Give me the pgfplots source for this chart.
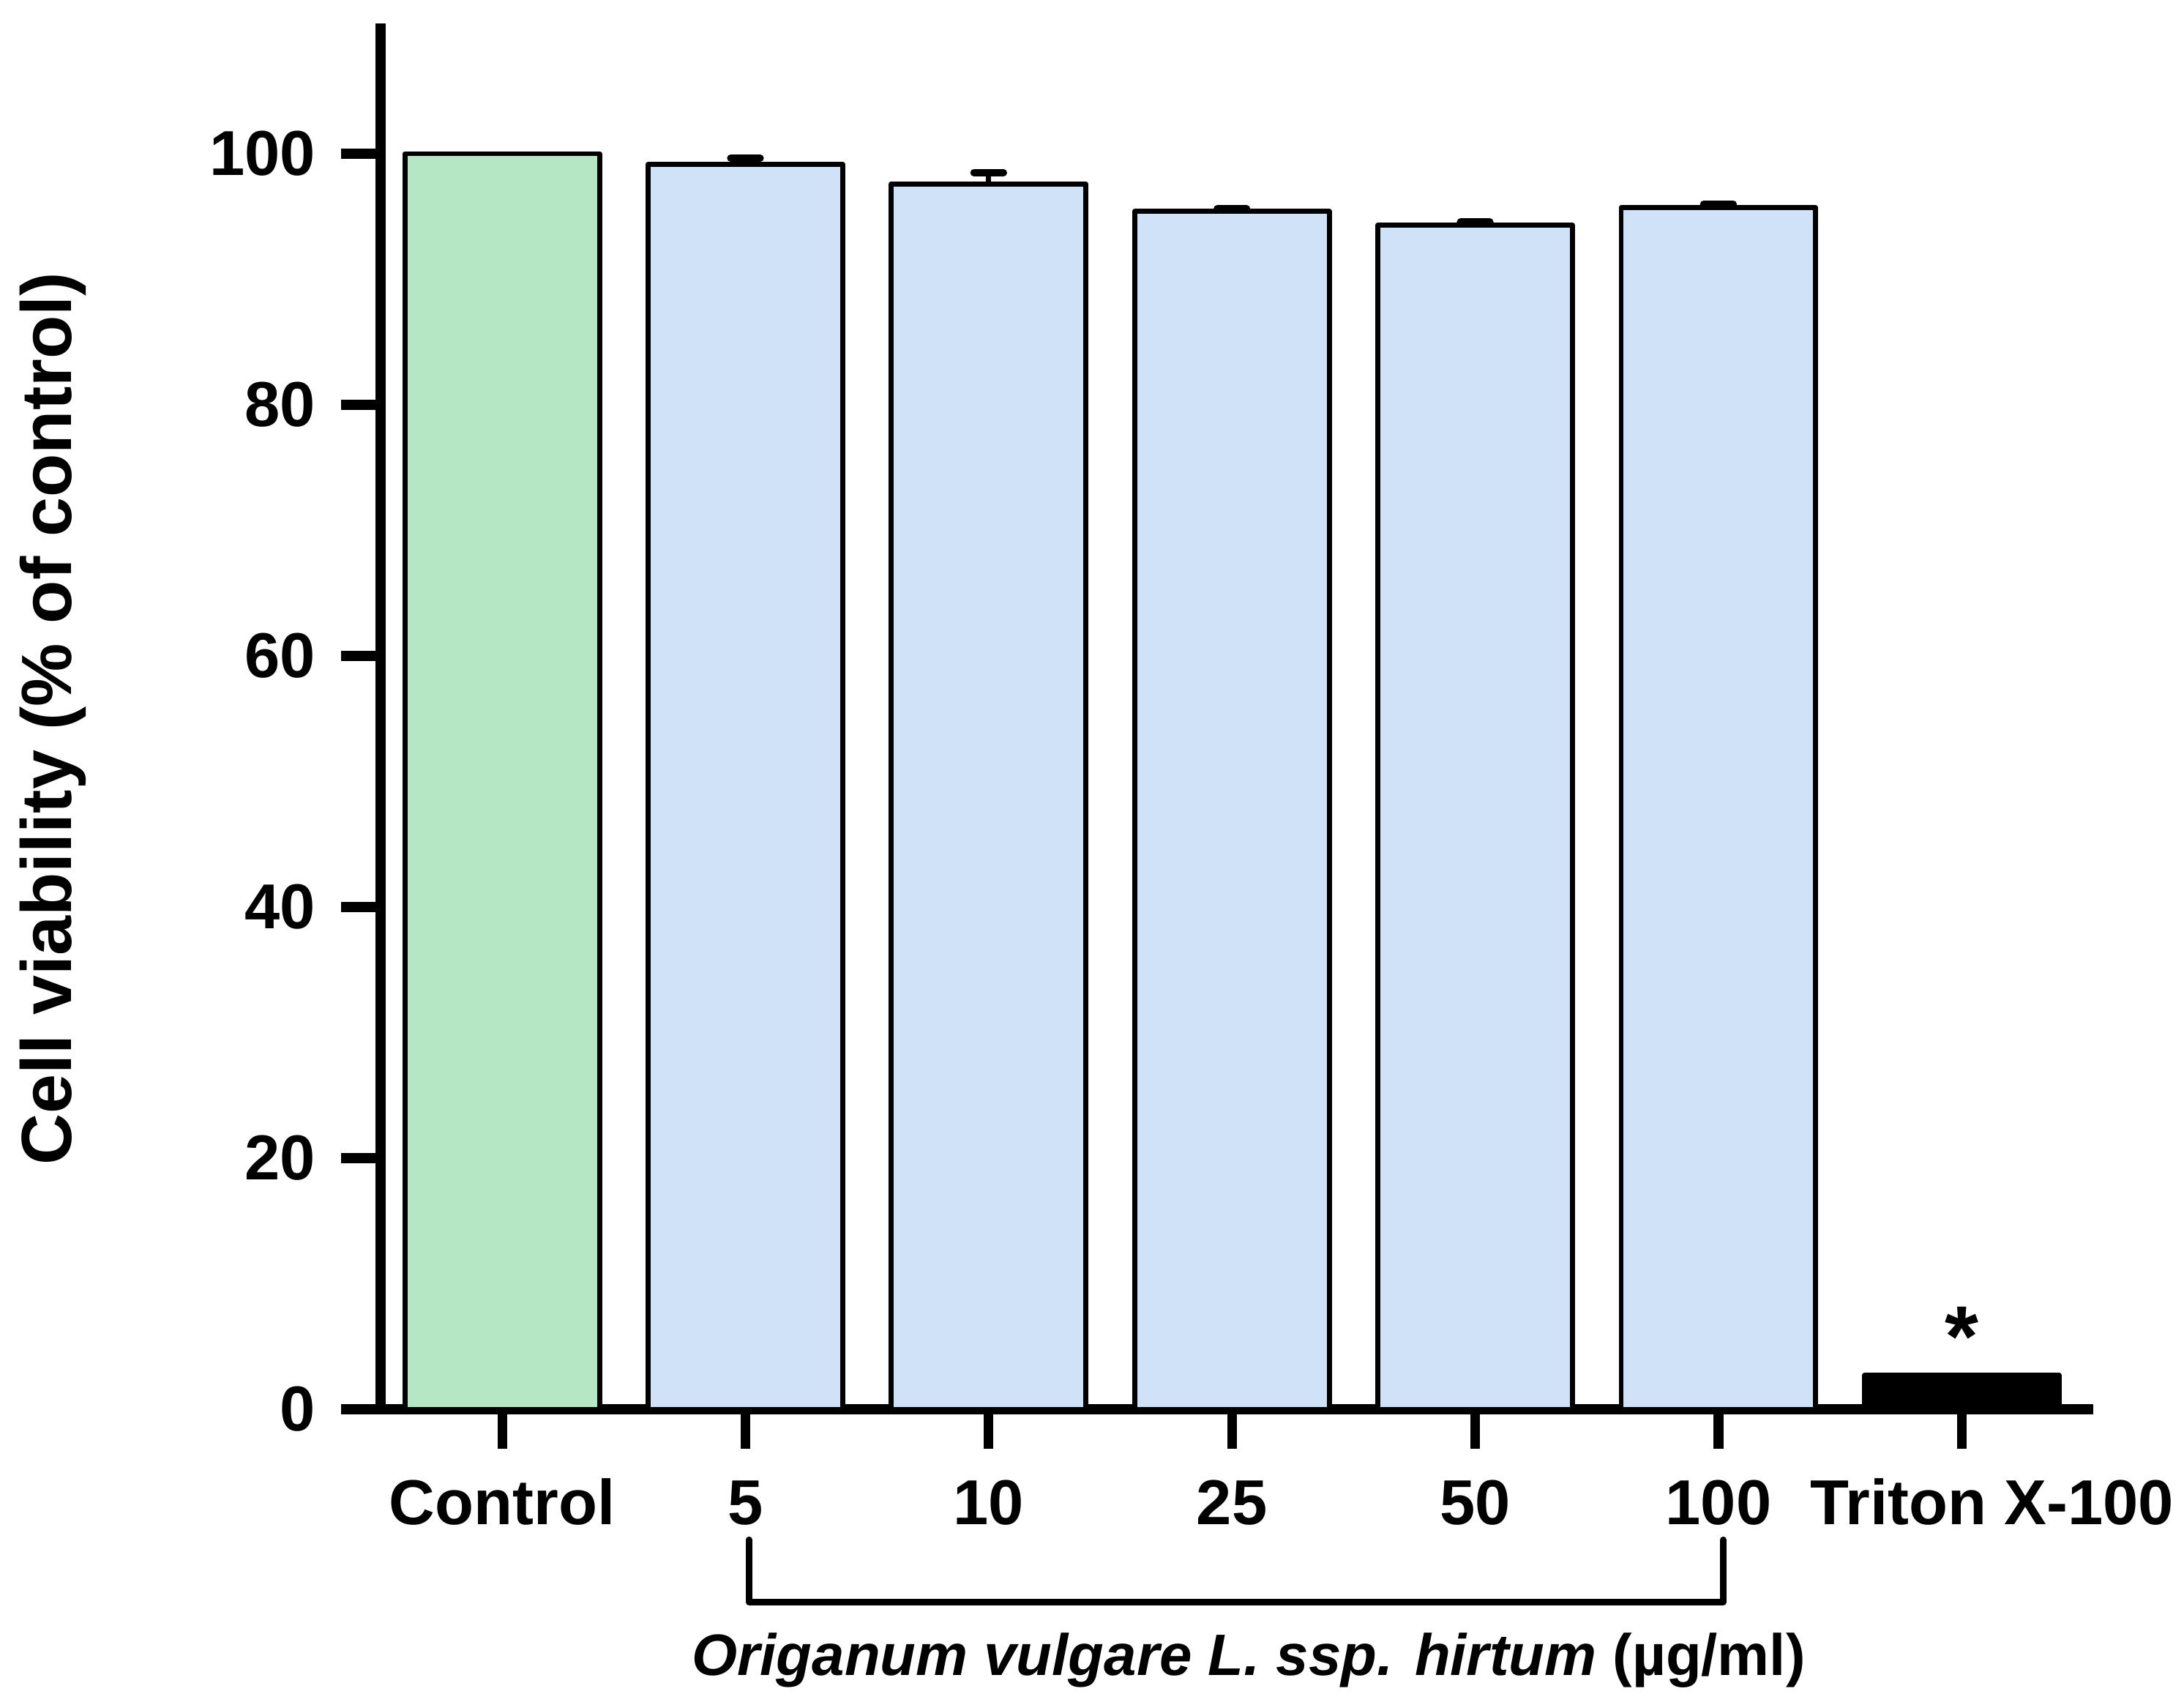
\documentclass[border=0pt]{standalone}
\usepackage{pgfplots}
\pgfplotsset{compat=1.18}
\usepackage{fontspec}
\setmainfont{Liberation Sans}
\definecolor{ctrlgreen}{RGB}{181,231,197}
\definecolor{dosblue}{RGB}{207,226,248}
\begin{document}
\begin{tikzpicture}
\useasboundingbox (0,0) rectangle (430pt,335.6pt);
\begin{axis}[
  at={(74.93pt,58.2pt)}, anchor=south west,
  scale only axis, width=336.2pt, height=271.85pt,
  xmin=-0.5, xmax=6.52, ymin=0, ymax=110,
  axis x line=bottom, axis y line=left,
  axis line style={-, line width=1.92pt, line cap=rect},
  tick align=outside, xtick pos=bottom, ytick pos=left,
  major tick length=7.8pt,
  tick style={line width=1.9pt, black},
  xtick={0,1,2,3,4,5,6},
  xticklabels={Control,5,10,25,50,100,\hspace*{12pt}Triton X-100},
  ytick={0,20,40,60,80,100},
  /pgf/number format/assume math mode=true,
  tick label style={font=\fontsize{12.5}{15}\selectfont\bfseries},
  yticklabel style={anchor=east, inner sep=0pt, xshift=-4.8pt},
  xticklabel style={anchor=base, inner sep=0pt, yshift=-14.9pt},
  ylabel={Cell viability (\% of control)},
  ylabel style={at={(axis description cs:-0.192,0.5)}, anchor=center, font=\fontsize{14}{17}\selectfont\bfseries},
  xlabel={\textit{Origanum vulgare L. ssp. hirtum} (µg/ml)},
  xlabel style={at={(axis description cs:0.5084,0)}, anchor=base, yshift=-52.3pt, font=\fontsize{11.5}{14}\selectfont\bfseries},
  ybar, bar width=38.3pt,
  clip=false,
]
\addplot[ybar, bar shift=0pt, fill=ctrlgreen, draw=black, line width=1pt, line join=round]
  coordinates {(0,100)};
\addplot[ybar, bar shift=0pt, fill=dosblue, draw=black, line width=1pt, line join=round,
  error bars/.cd, y dir=plus, y explicit,
  error bar style={line width=1pt, black},
  error mark options={rotate=90, line width=1.45pt, mark size=2.9pt, black, line cap=round}]
  table[x=x, y=y, y error=e] {
x y e
1 99.15 0.5
2 97.6 0.9
3 95.4 0.2
4 94.3 0.25
5 95.7 0.3
};
\addplot[ybar, bar shift=0pt, fill=black, draw=black, line width=1pt, line join=round,
  nodes near coords={*},
  every node near coord/.append style={font=\fontsize{17}{20}\selectfont\bfseries, anchor=center, yshift=7.6pt}]
  coordinates {(6,2.7)};
\draw[line width=1.3pt, line cap=round, line join=round] (axis cs:1.014,-10.4) -- (axis cs:1.014,-15.35) -- (axis cs:5.02,-15.35) -- (axis cs:5.02,-10.4);
\end{axis}
\end{tikzpicture}
\end{document}
